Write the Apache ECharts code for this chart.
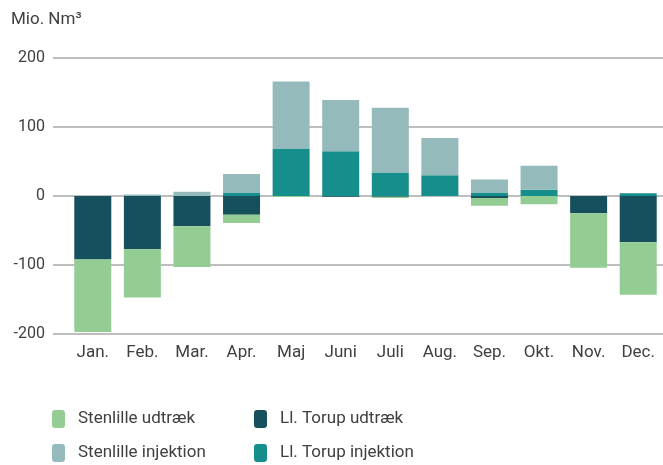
<!DOCTYPE html>
<html>
<head>
<meta charset="utf-8">
<script src="https://cdn.jsdelivr.net/npm/echarts@6/dist/echarts.min.js"></script>
<style>
  html, body { margin: 0; padding: 0; background: #fff; }
  #chart { width: 663px; height: 465px; }
</style>
</head>
<body>
<div id="chart"></div>
<script>
const months = ['Jan.', 'Feb.', 'Mar.', 'Apr.', 'Maj', 'Juni', 'Juli', 'Aug.', 'Sep.', 'Okt.', 'Nov.', 'Dec.'];
const stenlilleUdtraek = [-105, -70, -59, -12, -1.5, 0, -2, 0, -11, -12, -79, -76];
const torupUdtraek = [-92, -77, -44, -27, 0, -1, -1, 0, -3, 0, -25, -67];
const stenlilleInjektion = [0, 2, 6, 27, 97, 74, 94, 54, 19, 35, 0, 0];
const torupInjektion = [0, 0, 0, 5, 69, 65, 34, 30, 5, 9, 0, 4];
const yTicks = [-200, -100, 0, 100, 200];

const font = 'Roboto, "DejaVu Sans Condensed", sans-serif';
const textColor = '#404040';

const chart = echarts.init(document.getElementById('chart'));

const legendText = { fontSize: 17, fontWeight: 400, color: textColor, fontFamily: font, padding: [0, 0, 0, 8] };

const option = {
  animation: false,
  textStyle: { fontFamily: font },
  title: {
    text: 'Mio. Nm³',
    left: 6,
    top: 6,
    textStyle: { fontSize: 17, fontWeight: 400, color: textColor, fontFamily: font }
  },
  legend: [
    {
      orient: 'vertical',
      left: 52,
      top: 410,
      padding: 0,
      itemWidth: 13,
      itemHeight: 18,
      itemGap: 16,
      data: ['Stenlille udtræk', 'Stenlille injektion'],
      textStyle: legendText
    },
    {
      orient: 'vertical',
      left: 254,
      top: 410,
      padding: 0,
      itemWidth: 13,
      itemHeight: 18,
      itemGap: 16,
      data: ['Ll. Torup udtræk', 'Ll. Torup injektion'],
      textStyle: legendText
    }
  ],
  grid: [
    // gridlines + y labels
    { left: 53, right: 0, top: 58, height: 276 },
    // bars
    { left: 68, width: 600, top: 58, height: 276 }
  ],
  xAxis: [
    { gridIndex: 0, type: 'value', show: false },
    {
      gridIndex: 1,
      type: 'category',
      data: months,
      axisLine: { show: false },
      axisTick: { show: false },
      axisLabel: { fontSize: 17, fontWeight: 400, color: textColor, margin: 10 }
    }
  ],
  yAxis: [
    {
      gridIndex: 0,
      type: 'value',
      min: yTicks[0],
      max: yTicks[yTicks.length - 1],
      interval: 100,
      axisLine: { show: false },
      axisTick: { show: false },
      axisLabel: { fontSize: 16, fontWeight: 400, color: textColor, margin: 8 },
      splitLine: { lineStyle: { color: '#a8a8a8', width: 1.5 } }
    },
    {
      gridIndex: 1,
      type: 'value',
      min: yTicks[0],
      max: yTicks[yTicks.length - 1],
      interval: 100,
      show: false,
      splitLine: { show: false }
    }
  ],
  series: [
    {
      name: 'Ll. Torup injektion',
      type: 'bar',
      stack: 'total',
      xAxisIndex: 1,
      yAxisIndex: 1,
      barWidth: 37,
      data: torupInjektion,
      itemStyle: { color: '#168e8b' }
    },
    {
      name: 'Stenlille injektion',
      type: 'bar',
      stack: 'total',
      xAxisIndex: 1,
      yAxisIndex: 1,
      barWidth: 37,
      data: stenlilleInjektion,
      itemStyle: { color: '#95babb' }
    },
    {
      name: 'Ll. Torup udtræk',
      type: 'bar',
      stack: 'total',
      xAxisIndex: 1,
      yAxisIndex: 1,
      barWidth: 37,
      data: torupUdtraek,
      itemStyle: { color: '#16505c' }
    },
    {
      name: 'Stenlille udtræk',
      type: 'bar',
      stack: 'total',
      xAxisIndex: 1,
      yAxisIndex: 1,
      barWidth: 37,
      data: stenlilleUdtraek,
      itemStyle: { color: '#93cd93' }
    }
  ]
};

chart.setOption(option);
</script>
</body>
</html>
